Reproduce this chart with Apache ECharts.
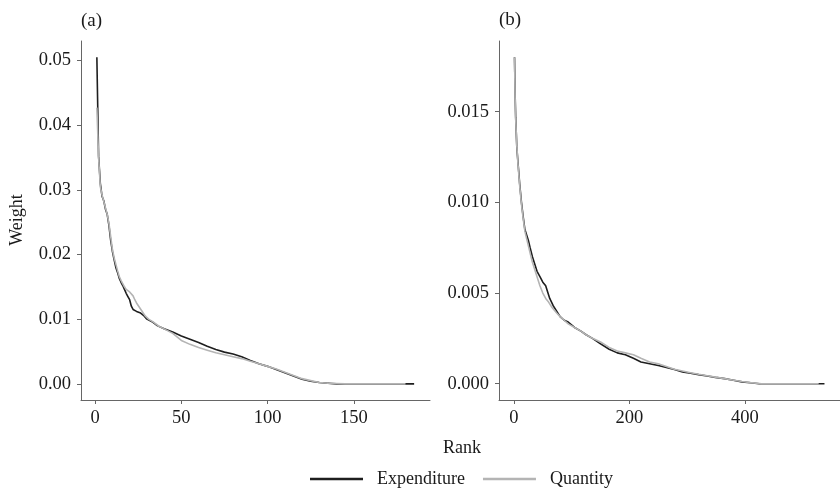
<!DOCTYPE html>
<html>
<head>
<meta charset="utf-8">
<script src="https://cdn.jsdelivr.net/npm/echarts@6/dist/echarts.min.js"></script>
<style>html,body{margin:0;padding:0;background:#fff}#c{width:840px;height:490px}</style>
</head>
<body>
<div id="c"></div>
<script>
// ---- Panel (a) ----
const aExpRank   = [1,2,3,4,5,6,7,8,9,10,11,12,13,14,15,16,17,18,19,20,21,22,24,26,28,30,33,36,40,45,50,55,60,65,70,75,80,85,90,95,100,105,110,115,120,125,130,135,140,185];
const aExpWeight = [0.0505,0.0352,0.0310,0.0290,0.0283,0.0270,0.0262,0.0245,0.0222,0.0205,0.0192,0.0180,0.0172,0.0163,0.0157,0.0152,0.0146,0.0140,0.0135,0.0130,0.0120,0.0115,0.0112,0.0110,0.0106,0.0100,0.0096,0.0090,0.0085,0.0080,0.0074,0.0069,0.0064,0.0058,0.0053,0.0049,0.0046,0.0042,0.0036,0.0031,0.0027,0.0022,0.0017,0.0012,0.0007,0.0004,0.0002,0.0001,0.0000,0.0000];
const aQtyRank   = [1,2,3,4,5,6,7,8,9,10,11,12,13,14,15,16,17,18,19,20,21,22,23,24,25,27,29,31,34,37,40,45,50,55,60,65,70,75,80,85,90,95,100,105,110,115,120,125,130,135,145,180];
const aQtyWeight = [0.0427,0.0350,0.0305,0.0292,0.0282,0.0272,0.0262,0.0248,0.0228,0.0208,0.0195,0.0185,0.0175,0.0166,0.0160,0.0155,0.0150,0.0146,0.0143,0.0142,0.0140,0.0136,0.0130,0.0125,0.0122,0.0113,0.0105,0.0100,0.0095,0.0089,0.0085,0.0078,0.0067,0.0061,0.0056,0.0052,0.0048,0.0045,0.0042,0.0039,0.0035,0.0031,0.0027,0.0023,0.0018,0.0013,0.0008,0.0005,0.0002,0.0001,0.0000,0.0000];
const aXTicks = [0,50,100,150];
const aYTicks = [0,0.01,0.02,0.03,0.04,0.05];

// ---- Panel (b) ----
const bExpRank   = [1,2,3,5,7,10,13,16,19,22,25,28,32,36,40,45,50,55,58,62,68,74,80,87,94,105,116,125,136,150,165,179,193,207,220,235,250,264,278,292,306,320,335,349,365,378,395,410,425,538];
const bExpWeight = [0.0180,0.0160,0.0147,0.0130,0.0122,0.0110,0.0100,0.0092,0.0085,0.0082,0.0079,0.0075,0.0070,0.0066,0.0062,0.0059,0.0056,0.0054,0.0051,0.0047,0.0043,0.0040,0.0037,0.0035,0.0034,0.0031,0.0029,0.0027,0.0025,0.0022,0.0019,0.0017,0.0016,0.0014,0.0012,0.0011,0.0010,0.0009,0.00078,0.00065,0.00058,0.0005,0.00042,0.00035,0.00028,0.0002,0.0001,0.00005,0.0,0.0];
const bQtyRank   = [1,2,3,5,7,10,13,16,19,22,25,28,32,36,40,45,50,55,60,66,74,80,87,94,105,116,125,136,150,165,179,193,207,220,235,250,264,278,292,306,320,335,349,365,378,395,410,429,528];
const bQtyWeight = [0.0180,0.0158,0.0146,0.0131,0.0121,0.0109,0.0099,0.0091,0.0084,0.0080,0.0076,0.0072,0.0067,0.0063,0.0059,0.0054,0.0050,0.0047,0.0045,0.0042,0.0039,0.0037,0.0035,0.0033,0.0031,0.0029,0.0027,0.0025,0.0023,0.0020,0.0018,0.0017,0.0016,0.0014,0.0012,0.0011,0.00095,0.0008,0.0007,0.0006,0.00052,0.00044,0.00036,0.00028,0.0002,0.00012,0.00006,0.0,0.0];
const bXTicks = [0,200,400];
const bYTicks = [0,0.005,0.010,0.015];

const seriesNames = ['Expenditure','Quantity'];
const FONT = 'Liberation Serif';
const TXT = '#1a1a1a';
const AXC = '#666';

function pairs(r, w){ return r.map((x,i)=>[x,w[i]]); }
function xAx(idx, min, max, ticks){
  return {type:'value', gridIndex:idx, min:min, max:max,
    axisLine:{onZero:false, lineStyle:{color:AXC, width:1}},
    axisTick:{length:4, lineStyle:{color:AXC}, customValues:ticks},
    axisLabel:{margin:9, color:TXT, fontFamily:FONT, fontSize:18.5, customValues:ticks},
    splitLine:{show:false}};
}
function yAx(idx, min, max, ticks, fmt){
  return {type:'value', gridIndex:idx, min:min, max:max,
    axisLine:{show:true, onZero:false, lineStyle:{color:AXC, width:1}},
    axisTick:{show:true, length:4, lineStyle:{color:AXC}, customValues:ticks},
    axisLabel:{margin:10, color:TXT, fontFamily:FONT, fontSize:18.5, customValues:ticks, formatter:v=>v.toFixed(fmt)},
    splitLine:{show:false}};
}
const lineBase = {type:'line', symbol:'none', showSymbol:false, animation:false};

const chart = echarts.init(document.getElementById('c'), null, {renderer:'canvas'});
chart.setOption({
  animation:false,
  backgroundColor:'#fff',
  grid:[
    {left:81, top:41, width:349, height:359},
    {left:499, top:41, width:348, height:359}
  ],
  xAxis:[xAx(0,-8.2,194.2,aXTicks), xAx(1,-25.9,564.9,bXTicks)],
  yAxis:[yAx(0,-0.0025,0.053,aYTicks,2), yAx(1,-0.0009,0.0189,bYTicks,3)],
  legend:{
    data:seriesNames, left:310, top:470, padding:0, itemWidth:53, itemHeight:14, itemGap:18,
    icon:'path://M0,0 L53,0 L53,2.5 L0,2.5 Z',
    textStyle:{fontFamily:FONT, fontSize:18, color:TXT, padding:[0,0,0,9]}
  },
  series:[
    Object.assign({}, lineBase, {name:seriesNames[0], xAxisIndex:0, yAxisIndex:0, data:pairs(aExpRank,aExpWeight), color:'#1e1e1e', lineStyle:{width:1.6, color:'#1e1e1e'}}),
    Object.assign({}, lineBase, {name:seriesNames[1], xAxisIndex:0, yAxisIndex:0, data:pairs(aQtyRank,aQtyWeight), color:'#b4b4b4', lineStyle:{width:1.6, color:'#b4b4b4'}}),
    Object.assign({}, lineBase, {name:seriesNames[0], xAxisIndex:1, yAxisIndex:1, data:pairs(bExpRank,bExpWeight), color:'#1e1e1e', lineStyle:{width:1.6, color:'#1e1e1e'}}),
    Object.assign({}, lineBase, {name:seriesNames[1], xAxisIndex:1, yAxisIndex:1, data:pairs(bQtyRank,bQtyWeight), color:'#b4b4b4', lineStyle:{width:1.6, color:'#b4b4b4'}})
  ],
  graphic:[
    {type:'text', left:81, top:12, style:{text:'(a)', font:'19px "Liberation Serif"', fill:TXT}},
    {type:'text', left:499, top:11, style:{text:'(b)', font:'19px "Liberation Serif"', fill:TXT}},
    {type:'text', x:17, y:220, rotation:Math.PI/2, style:{text:'Weight', font:'18px "Liberation Serif"', fill:TXT, align:'center', verticalAlign:'middle'}},
    {type:'text', x:462, y:448, style:{text:'Rank', font:'18px "Liberation Serif"', fill:TXT, align:'center', verticalAlign:'middle'}}
  ]
});
</script>
</body>
</html>
